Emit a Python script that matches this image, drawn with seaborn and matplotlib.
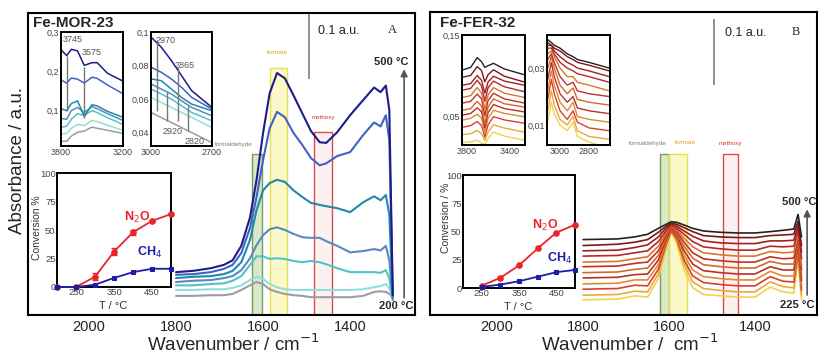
import matplotlib
matplotlib.use("Agg")
import matplotlib.pyplot as plt
from matplotlib.colors import to_rgba
import seaborn as sns
import pandas as pd

# ---------------- Fe-MOR-23 (panel A) ----------------
mor_temps = [200, 250, 300, 350, 400, 450, 500]
mor_colors = ['#9c9ca4', '#8fe0dc', '#4fc3c9', '#5a88c0', '#1f8aa6', '#3f62c4', '#1c1c8a']

mor_wn = [1800, 1760, 1720, 1690, 1670, 1650, 1630, 1615, 1600, 1585, 1568, 1550, 1530,
          1510, 1490, 1470, 1455, 1430, 1400, 1370, 1345, 1330, 1318, 1310, 1302]
mor_abs = [
    [0.029, 0.029, 0.030, 0.030, 0.032, 0.038, 0.045, 0.050, 0.047, 0.039, 0.035, 0.032, 0.030,
     0.029, 0.027, 0.027, 0.027, 0.027, 0.027, 0.029, 0.035, 0.036, 0.035, 0.032, 0.027],
    [0.038, 0.038, 0.039, 0.039, 0.041, 0.045, 0.053, 0.058, 0.055, 0.047, 0.042, 0.039, 0.038,
     0.038, 0.038, 0.038, 0.038, 0.038, 0.038, 0.039, 0.042, 0.044, 0.047, 0.041, 0.026],
    [0.045, 0.045, 0.047, 0.048, 0.052, 0.059, 0.076, 0.089, 0.089, 0.085, 0.086, 0.085, 0.082,
     0.080, 0.082, 0.080, 0.077, 0.071, 0.065, 0.065, 0.065, 0.064, 0.068, 0.056, 0.023],
    [0.050, 0.052, 0.053, 0.056, 0.059, 0.068, 0.086, 0.106, 0.121, 0.130, 0.133, 0.129, 0.123,
     0.118, 0.117, 0.117, 0.112, 0.105, 0.095, 0.097, 0.100, 0.098, 0.105, 0.083, 0.023],
    [0.056, 0.058, 0.059, 0.062, 0.067, 0.080, 0.114, 0.159, 0.189, 0.200, 0.205, 0.202, 0.189,
     0.179, 0.170, 0.167, 0.165, 0.162, 0.156, 0.171, 0.180, 0.174, 0.182, 0.152, 0.026],
    [0.061, 0.062, 0.065, 0.070, 0.076, 0.094, 0.132, 0.179, 0.235, 0.283, 0.308, 0.300, 0.276,
     0.258, 0.238, 0.227, 0.230, 0.241, 0.247, 0.273, 0.292, 0.286, 0.303, 0.265, 0.030],
    [0.065, 0.067, 0.071, 0.076, 0.083, 0.105, 0.148, 0.205, 0.276, 0.336, 0.367, 0.359, 0.333,
     0.306, 0.279, 0.262, 0.261, 0.277, 0.303, 0.326, 0.345, 0.338, 0.348, 0.311, 0.030],
]

mor_oh_wn = [3800, 3745, 3700, 3640, 3575, 3500, 3450, 3350, 3200]
mor_oh = [
    [0.022, 0.022, 0.035, 0.045, 0.048, 0.058, 0.055, 0.050, 0.042],
    [0.040, 0.042, 0.055, 0.065, 0.062, 0.075, 0.072, 0.063, 0.050],
    [0.058, 0.060, 0.078, 0.092, 0.088, 0.100, 0.095, 0.082, 0.065],
    [0.080, 0.078, 0.100, 0.108, 0.095, 0.110, 0.105, 0.092, 0.075],
    [0.105, 0.100, 0.118, 0.125, 0.085, 0.115, 0.112, 0.098, 0.083],
    [0.178, 0.170, 0.183, 0.180, 0.170, 0.185, 0.182, 0.165, 0.143],
    [0.255, 0.240, 0.256, 0.252, 0.215, 0.222, 0.222, 0.195, 0.175],
]
mor_ch_wn = [3000, 2950, 2900, 2850, 2800, 2700]
mor_ch = [
    [0.052, 0.049, 0.046, 0.043, 0.040, 0.034],
    [0.061, 0.058, 0.055, 0.052, 0.049, 0.043],
    [0.066, 0.063, 0.060, 0.056, 0.052, 0.047],
    [0.069, 0.066, 0.063, 0.059, 0.055, 0.050],
    [0.072, 0.071, 0.066, 0.061, 0.057, 0.053],
    [0.079, 0.076, 0.072, 0.067, 0.061, 0.054],
    [0.097, 0.091, 0.083, 0.074, 0.065, 0.055],
]

mor_T = [200, 250, 300, 350, 400, 450, 500]
mor_n2o = [0, 0, 9, 31, 48, 58, 64]
mor_n2o_err = [0, 0, 3, 3, 2, 0, 0]
mor_ch4 = [0, 0, 2, 8, 13, 16, 16]

# ---------------- Fe-FER-32 (panel B) ----------------
fer_temps = [225, 250, 275, 300, 325, 350, 375, 400, 425, 450, 475, 500]
fer_colors = ['#f0d24c', '#eaa83a', '#d8402a', '#e08a32', '#b8302a', '#d06a2c',
              '#c0322a', '#d8782e', '#b8282a', '#a02020', '#7a1818', '#222222']

fer_wn = [1800, 1720, 1680, 1650, 1625, 1607, 1595, 1582, 1565, 1545, 1520, 1480, 1440,
          1400, 1365, 1335, 1310, 1300, 1292]
fer_abs = [
    [0.023, 0.024, 0.029, 0.027, 0.055, 0.100, 0.126, 0.108, 0.068, 0.041, 0.031, 0.029, 0.027,
     0.027, 0.042, 0.035, 0.033, 0.085, 0.023],
    [0.030, 0.031, 0.036, 0.035, 0.062, 0.104, 0.127, 0.112, 0.076, 0.050, 0.040, 0.037, 0.035,
     0.035, 0.050, 0.043, 0.041, 0.090, 0.030],
    [0.039, 0.040, 0.045, 0.044, 0.069, 0.107, 0.127, 0.115, 0.083, 0.059, 0.049, 0.046, 0.044,
     0.044, 0.058, 0.051, 0.050, 0.095, 0.038],
    [0.047, 0.048, 0.053, 0.053, 0.076, 0.110, 0.129, 0.118, 0.090, 0.068, 0.058, 0.055, 0.053,
     0.053, 0.066, 0.059, 0.059, 0.100, 0.045],
    [0.056, 0.057, 0.061, 0.062, 0.083, 0.113, 0.130, 0.120, 0.097, 0.077, 0.067, 0.064, 0.062,
     0.062, 0.073, 0.068, 0.068, 0.105, 0.052],
    [0.064, 0.065, 0.069, 0.071, 0.090, 0.117, 0.132, 0.123, 0.104, 0.086, 0.076, 0.073, 0.071,
     0.071, 0.081, 0.077, 0.077, 0.110, 0.060],
    [0.073, 0.074, 0.078, 0.080, 0.097, 0.120, 0.133, 0.126, 0.110, 0.094, 0.085, 0.082, 0.080,
     0.080, 0.088, 0.085, 0.086, 0.115, 0.068],
    [0.080, 0.081, 0.085, 0.088, 0.104, 0.124, 0.135, 0.129, 0.116, 0.103, 0.094, 0.091, 0.089,
     0.089, 0.096, 0.094, 0.095, 0.122, 0.075],
    [0.089, 0.090, 0.094, 0.097, 0.111, 0.127, 0.136, 0.131, 0.122, 0.111, 0.103, 0.100, 0.098,
     0.098, 0.104, 0.103, 0.104, 0.128, 0.085],
    [0.097, 0.098, 0.102, 0.106, 0.118, 0.131, 0.138, 0.134, 0.127, 0.119, 0.112, 0.109, 0.108,
     0.108, 0.112, 0.112, 0.113, 0.135, 0.095],
    [0.105, 0.107, 0.110, 0.114, 0.125, 0.134, 0.139, 0.137, 0.132, 0.126, 0.120, 0.118, 0.117,
     0.117, 0.120, 0.121, 0.122, 0.142, 0.105],
    [0.114, 0.115, 0.118, 0.122, 0.131, 0.137, 0.141, 0.140, 0.136, 0.131, 0.127, 0.125, 0.124,
     0.124, 0.126, 0.128, 0.130, 0.152, 0.118],
]

fer_oh_wn = [3830, 3760, 3700, 3660, 3630, 3600, 3550, 3450, 3270]
fer_oh = [
    [0.017, 0.018, 0.020, 0.016, 0.015, 0.022, 0.030, 0.025, 0.020],
    [0.027, 0.028, 0.032, 0.028, 0.020, 0.030, 0.039, 0.035, 0.030],
    [0.036, 0.038, 0.043, 0.038, 0.024, 0.039, 0.049, 0.045, 0.041],
    [0.045, 0.047, 0.052, 0.047, 0.030, 0.047, 0.057, 0.053, 0.049],
    [0.051, 0.053, 0.060, 0.055, 0.035, 0.054, 0.064, 0.059, 0.055],
    [0.057, 0.059, 0.068, 0.062, 0.040, 0.061, 0.071, 0.065, 0.061],
    [0.066, 0.068, 0.077, 0.071, 0.050, 0.069, 0.078, 0.071, 0.066],
    [0.073, 0.075, 0.085, 0.078, 0.058, 0.076, 0.085, 0.078, 0.073],
    [0.082, 0.084, 0.094, 0.087, 0.068, 0.085, 0.093, 0.086, 0.080],
    [0.088, 0.090, 0.100, 0.094, 0.078, 0.092, 0.099, 0.093, 0.088],
    [0.098, 0.100, 0.111, 0.106, 0.092, 0.101, 0.107, 0.099, 0.092],
    [0.107, 0.110, 0.122, 0.117, 0.110, 0.112, 0.115, 0.108, 0.101],
]
fer_ch_wn = [3085, 3060, 3040, 3000, 2950, 2910, 2880, 2800, 2660]
fer_ch = [
    [0.011, 0.018, 0.014, 0.010, 0.008, 0.011, 0.006, 0.004, 0.002],
    [0.015, 0.022, 0.017, 0.012, 0.010, 0.013, 0.008, 0.006, 0.005],
    [0.019, 0.026, 0.021, 0.015, 0.012, 0.015, 0.011, 0.009, 0.008],
    [0.022, 0.029, 0.024, 0.018, 0.015, 0.018, 0.013, 0.012, 0.011],
    [0.026, 0.032, 0.027, 0.021, 0.018, 0.020, 0.016, 0.015, 0.014],
    [0.030, 0.034, 0.030, 0.024, 0.021, 0.023, 0.019, 0.018, 0.017],
    [0.033, 0.035, 0.032, 0.027, 0.024, 0.025, 0.022, 0.021, 0.020],
    [0.035, 0.036, 0.034, 0.030, 0.027, 0.027, 0.025, 0.024, 0.022],
    [0.037, 0.037, 0.035, 0.032, 0.030, 0.029, 0.028, 0.027, 0.025],
    [0.038, 0.038, 0.036, 0.034, 0.032, 0.031, 0.030, 0.029, 0.027],
    [0.039, 0.038, 0.037, 0.036, 0.034, 0.033, 0.032, 0.031, 0.029],
    [0.040, 0.039, 0.038, 0.037, 0.035, 0.034, 0.033, 0.032, 0.030],
]

fer_T = [250, 300, 350, 400, 450, 500]
fer_n2o = [2, 9, 20, 35, 49, 56]
fer_ch4 = [1, 3, 6, 10, 14, 16]

# band ranges (wavenumber from, to, top of box in a.u.)
mor_bands = {'formaldehyde': (1625, 1602, 0.244), 'formate': (1584, 1545, 0.374),
             'methoxy': (1483, 1441, 0.277)}
fer_bands = {'formaldehyde': (1621, 1600, 0.244), 'formate': (1600, 1558, 0.244),
             'methoxy': (1474, 1440, 0.244)}
band_style = {'formaldehyde': ('#b8d8a0', '#7a9a60'), 'formate': ('#f8f4a0', '#e8e050'),
              'methoxy': ('#fbe6e6', '#e04848')}

YMAX = 0.458

sns.set_style('white')
plt.rcParams['font.family'] = ['Liberation Sans', 'DejaVu Sans']

fig = plt.figure(figsize=(8.19, 3.54), dpi=100)


def px_box(x0, y0, x1, y1):
    return [x0 / 819, 1 - y1 / 354, (x1 - x0) / 819, (y1 - y0) / 354]


def ftext(x, y, s, **kw):
    kw.setdefault('ha', 'center')
    kw.setdefault('va', 'center')
    fig.text(x / 819, 1 - y / 354, s, **kw)


def long_df(wn, curves, temps):
    rows = []
    for t, vals in zip(temps, curves):
        for w, v in zip(wn, vals):
            rows.append({'wn': w, 'abs': v, 'T': t})
    return pd.DataFrame(rows)


def draw_curves(ax, wn, curves, temps, colors, lw):
    df = long_df(wn, curves, temps)
    sns.lineplot(data=df, x='wn', y='abs', hue='T', palette=dict(zip(temps, colors)),
                 legend=False, errorbar=None, lw=lw, ax=ax)
    ax.set_xlabel('')
    ax.set_ylabel('')


def style_main(ax, xlim, xlabel):
    ax.set_xlim(*xlim)
    ax.set_ylim(0, YMAX)
    ax.set_xticks([2000, 1800, 1600, 1400])
    ax.set_yticks([0.092, 0.184, 0.276, 0.368])
    ax.set_yticklabels([])
    ax.tick_params(direction='in', length=4, width=1.2, labelsize=10.5, colors='#222')
    for s in ax.spines.values():
        s.set_linewidth(1.5)
        s.set_color('black')
    ax.set_xlabel(xlabel, fontsize=13.5)
    ax.xaxis.set_label_coords(0.53, -0.06)


def style_inset(ax, xlim, ylim, xt, xtl, yt, ytl, minor=None):
    ax.set_xlim(*xlim)
    ax.set_ylim(*ylim)
    ax.set_xticks(xt)
    ax.set_xticklabels(xtl)
    ax.set_yticks(yt)
    ax.set_yticklabels(ytl)
    if minor:
        ax.set_xticks(minor, minor=True)
    ax.tick_params(which='both', direction='in', length=2.5, width=1, labelsize=6.5,
                   colors='#444', pad=1.5)
    for s in ax.spines.values():
        s.set_linewidth(1.4)
        s.set_color('black')


def draw_bands(ax, bands):
    for name, (w0, w1, top) in bands.items():
        face, edge = band_style[name]
        ax.axvspan(w0, w1, ymin=0, ymax=top / YMAX, facecolor=to_rgba(face, 0.55),
                   edgecolor=edge, lw=1.0, zorder=0.5)


def draw_conv(ax, T, n2o, ch4, err):
    sns.lineplot(x=T, y=n2o, color='#e8262a', marker='o', markersize=4, mec='#e8262a',
                 lw=1.3, ax=ax, clip_on=False, zorder=3)
    if err is not None:
        ax.errorbar(T, n2o, yerr=err, fmt='none', ecolor='#e8262a', capsize=2, lw=1)
    sns.lineplot(x=T, y=ch4, color='#1c1ca8', marker='s', markersize=3.5, mec='#1c1ca8',
                 lw=1.3, ax=ax, clip_on=False, zorder=4)
    ax.set_xlim(200, 500)
    ax.set_ylim(0, 100)
    ax.set_xticks([250, 350, 450])
    ax.set_yticks([0, 25, 50, 75, 100])
    ax.tick_params(direction='in', length=2.5, width=1, labelsize=6.8, colors='#444', pad=1)
    for s in ax.spines.values():
        s.set_linewidth(1.4)
        s.set_color('black')
    ax.set_xlabel('')
    ax.set_ylabel('')


# ---------- panel A ----------
axA = fig.add_axes(px_box(28, 13, 415, 315))
draw_bands(axA, mor_bands)
draw_curves(axA, mor_wn, mor_abs, mor_temps, mor_colors, 1.5)
style_main(axA, (2140, 1251), 'Wavenumber / cm$^{-1}$')
axA.set_ylabel('Absorbance / a.u.', fontsize=13.5)
axA.yaxis.set_label_coords(-0.005, 0.51)
axA.vlines(1494, YMAX - 0.1, YMAX, color='#888', lw=1.3)
axA.annotate('', xy=(1276, 0.377), xytext=(1276, 0.022),
             arrowprops=dict(arrowstyle='-|>', color='#555', lw=1.2, mutation_scale=10))

a1 = fig.add_axes(px_box(61, 32, 123, 146))
draw_curves(a1, mor_oh_wn, mor_oh, mor_temps, mor_colors, 1.1)
style_inset(a1, (3800, 3200), (0.01, 0.3), [3800, 3200], ['3800', '3200'],
            [0.1, 0.2, 0.3], ['0,1', '0,2', '0,3'], [3700, 3600, 3500, 3400, 3300])
a1.vlines(3745, 0.10, 0.24, color='#777', lw=1)
a1.vlines(3575, 0.08, 0.21, color='#777', lw=1)
a1.text(3780, 0.28, '3745', fontsize=6.5, color='#555', va='center')
a1.text(3597, 0.249, '3575', fontsize=6.5, color='#555', va='center')

a2 = fig.add_axes(px_box(151, 32, 212, 146))
draw_curves(a2, mor_ch_wn, mor_ch, mor_temps, mor_colors, 1.1)
style_inset(a2, (3000, 2700), (0.032, 0.1), [3000, 2700], ['3000', '2700'],
            [0.04, 0.06, 0.08, 0.1], ['0,04', '0,06', '0,08', '0,1'],
            [2950, 2900, 2850, 2800, 2750])
for w, lo, hi in [(2970, 0.053, 0.095), (2920, 0.047, 0.065), (2865, 0.047, 0.079),
                  (2820, 0.041, 0.056)]:
    a2.vlines(w, lo, hi, color='#777', lw=1)
a2.text(2980, 0.095, '2970', fontsize=6.5, color='#555', va='center')
a2.text(2882, 0.080, '2865', fontsize=6.5, color='#555', va='center')
a2.text(2941, 0.0406, '2920', fontsize=6.5, color='#555', va='center')
a2.text(2833, 0.0345, '2820', fontsize=6.5, color='#555', va='center')

ac = fig.add_axes(px_box(57, 173, 171, 287))
draw_conv(ac, mor_T, mor_n2o, mor_ch4, mor_n2o_err)
ftext(37, 228, 'Conversion %', fontsize=7.5, rotation=90, color='#333')
ftext(113, 306, 'T / °C', fontsize=8, color='#333')
ftext(137, 217, 'N$_2$O', fontsize=9, color='#e8262a', fontweight='bold')
ftext(150, 252, 'CH$_4$', fontsize=9, color='#1c1ca8', fontweight='bold')

ftext(33, 23, 'Fe-MOR-23', fontsize=11, fontweight='bold', ha='left')
ftext(318, 31, '0.1 a.u.', fontsize=9, ha='left', color='#222')
ftext(392, 30, 'A', fontsize=9, family=['Liberation Serif', 'DejaVu Serif'])
ftext(391, 62, '500 °C', fontsize=8, fontweight='bold')
ftext(396, 306, '200 °C', fontsize=8, fontweight='bold')
ftext(234, 145, 'formaldehyde', fontsize=4.5, color='#6a8a5a')
ftext(278, 53, 'formate', fontsize=4.5, color='#e0a020')
ftext(323, 117, 'methoxy', fontsize=4.5, color='#e03030')

# ---------- panel B ----------
axB = fig.add_axes(px_box(430, 12, 817, 315))
draw_bands(axB, fer_bands)
draw_curves(axB, fer_wn, fer_abs, fer_temps, fer_colors, 1.2)
style_main(axB, (2156, 1256), 'Wavenumber /  cm$^{-1}$')
axB.xaxis.set_label_coords(0.517, -0.06)
axB.vlines(1495, YMAX - 0.111, YMAX - 0.011, color='#888', lw=1.3)
axB.annotate('', xy=(1279, 0.164), xytext=(1279, 0.026),
             arrowprops=dict(arrowstyle='-|>', color='#555', lw=1.2, mutation_scale=10))

b1 = fig.add_axes(px_box(462, 35, 525, 145))
draw_curves(b1, fer_oh_wn, fer_oh, fer_temps, fer_colors, 1.0)
style_inset(b1, (3840, 3260), (0.014, 0.15), [3800, 3400], ['3800', '3400'],
            [0.05, 0.15], ['0,05', '0,15'], [3600])

b2 = fig.add_axes(px_box(547, 35, 610, 145))
draw_curves(b2, fer_ch_wn, fer_ch, fer_temps, fer_colors, 1.0)
style_inset(b2, (3090, 2655), (0.003, 0.0416), [3000, 2800], ['3000', '2800'],
            [0.01, 0.03], ['0,01', '0,03'], [2900, 2700])

bc = fig.add_axes(px_box(463, 175, 575, 288))
draw_conv(bc, fer_T, fer_n2o, fer_ch4, None)
ftext(446, 218, 'Conversion / %', fontsize=7.5, rotation=90, color='#333')
ftext(518, 307, 'T / °C', fontsize=8, color='#333')
ftext(545, 225, 'N$_2$O', fontsize=9, color='#e8262a', fontweight='bold')
ftext(560, 258, 'CH$_4$', fontsize=9, color='#1c1ca8', fontweight='bold')

ftext(440, 23, 'Fe-FER-32', fontsize=11, fontweight='bold', ha='left')
ftext(725, 33, '0.1 a.u.', fontsize=9, ha='left', color='#222')
ftext(796, 32, 'B', fontsize=9, family=['Liberation Serif', 'DejaVu Serif'])
ftext(799, 202, '500 °C', fontsize=8, fontweight='bold')
ftext(797, 305, '225 °C', fontsize=8, fontweight='bold')
ftext(648, 143, 'formaldehyde', fontsize=4.5, color='#6a8a5a')
ftext(686, 143, 'formate', fontsize=4.5, color='#e0a020')
ftext(730, 143, 'methoxy', fontsize=4.5, color='#e03030')

fig.savefig('out.png', dpi=100)
